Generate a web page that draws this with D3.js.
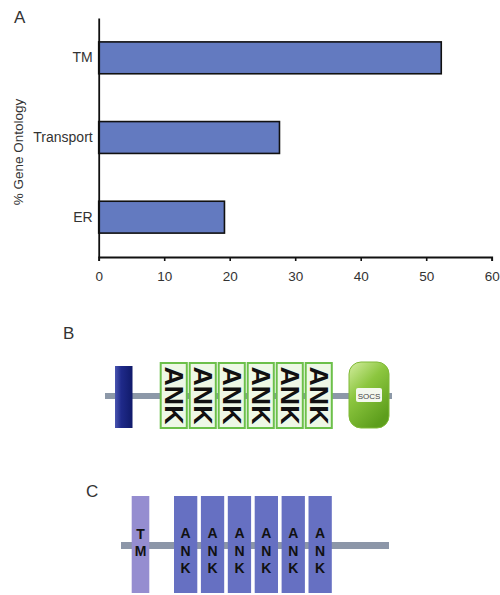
<!DOCTYPE html>
<html><head><meta charset="utf-8">
<script src="https://cdn.jsdelivr.net/npm/d3@7"></script>
<style>body{margin:0;background:#fff}svg{display:block}text{font-family:"Liberation Sans",Arial,sans-serif}</style>
</head><body>
<svg id="c" width="500" height="595"></svg>
<script>
// ---- data ----
const categories = ["TM", "Transport", "ER"];
const values = [52.3, 27.6, 19.2];
const xTicks = [0, 10, 20, 30, 40, 50, 60];
const panelLabels = ["A", "B", "C"];
const bDomains = ["TM", "ANK", "ANK", "ANK", "ANK", "ANK", "ANK", "SOCS"];
const cDomains = ["TM", "ANK", "ANK", "ANK", "ANK", "ANK", "ANK"];

const svg = d3.select("#c");
const defs = svg.append("defs");

// ---- panel A ----
const x = d3.scaleLinear().domain([0, 60]).range([98.7, 491.7]);
const y = d3.scaleBand().domain(categories).range([18, 257]).paddingInner(0.6).paddingOuter(0.3);

svg.append("g").selectAll("rect").data(categories).join("rect")
  .attr("x", x(0)).attr("y", d => y(d))
  .attr("width", (d, i) => x(values[i]) - x(0))
  .attr("height", y.bandwidth())
  .attr("fill", "#637ac0").attr("stroke", "#111").attr("stroke-width", 1.6);

const xAxis = svg.append("g").attr("transform", "translate(0,257)")
  .call(d3.axisBottom(x).tickValues(xTicks).tickSize(4).tickPadding(10).tickFormat(d3.format("d")));
xAxis.select(".domain").attr("stroke", "#111").attr("stroke-width", 1.8);
xAxis.selectAll(".tick line").attr("stroke", "#111").attr("stroke-width", 1.6);
xAxis.selectAll("text").attr("font-size", 13.5).attr("fill", "#333");

const yAxis = svg.append("g").attr("transform", "translate(98.7,0)")
  .call(d3.axisLeft(y).tickSize(0).tickPadding(6));
yAxis.select(".domain").attr("stroke", "#111").attr("stroke-width", 1.8);
yAxis.selectAll("text").attr("font-size", 14).attr("fill", "#333");

svg.append("text").attr("transform", "translate(23,152) rotate(-90)")
  .attr("text-anchor", "middle").attr("font-size", 13.5).attr("fill", "#333").text("% Gene Ontology");

const labelPos = [[14, 22.5], [63, 339], [86, 496.5]];
svg.selectAll("text.pl").data(panelLabels).join("text").attr("class", "pl")
  .attr("x", (d, i) => labelPos[i][0]).attr("y", (d, i) => labelPos[i][1])
  .attr("font-size", 17).attr("fill", "#333").text(d => d);

// ---- panel B ----
const gB = svg.append("g");
gB.append("rect").attr("x", 105).attr("y", 393).attr("width", 287).attr("height", 6).attr("fill", "#8c98a8");

const tmG = defs.append("linearGradient").attr("id", "tmB").attr("x1", 0).attr("x2", 1);
tmG.append("stop").attr("offset", 0).attr("stop-color", "#4a55b0");
tmG.append("stop").attr("offset", 0.35).attr("stop-color", "#1f2a8a");
tmG.append("stop").attr("offset", 1).attr("stop-color", "#101a6a");
gB.append("rect").attr("x", 115).attr("y", 366).attr("width", 17.5).attr("height", 62).attr("fill", "url(#tmB)");

const bIdx = d3.range(bDomains.filter(d => d === "ANK").length);
const xb = d3.scaleBand().domain(bIdx).range([160.7, 331.8]).paddingInner(0.1);
const ankB = gB.selectAll("g.ankb").data(bIdx).join("g").attr("class", "ankb");
ankB.append("rect").attr("x", d => xb(d)).attr("y", 363).attr("width", xb.bandwidth()).attr("height", 65)
  .attr("fill", "#eef8e6").attr("stroke", "#6cc04a").attr("stroke-width", 2);
ankB.append("text")
  .attr("transform", d => `translate(${xb(d) + xb.bandwidth() / 2 - 9},${395.5}) rotate(90)`)
  .attr("text-anchor", "middle").attr("font-size", 25).attr("font-weight", "bold")
  .attr("textLength", 58).attr("lengthAdjust", "spacingAndGlyphs").attr("fill", "#111").text("ANK");

const sG = defs.append("linearGradient").attr("id", "socs").attr("x1", 0).attr("y1", 0).attr("x2", 0.6).attr("y2", 1);
sG.append("stop").attr("offset", 0).attr("stop-color", "#d4eea0");
sG.append("stop").attr("offset", 0.45).attr("stop-color", "#8cc63f");
sG.append("stop").attr("offset", 1).attr("stop-color", "#5d9e1c");
gB.append("rect").attr("x", 349).attr("y", 362).attr("width", 40).attr("height", 66).attr("rx", 12)
  .attr("fill", "url(#socs)").attr("stroke", "#7fb936").attr("stroke-width", 1);
gB.append("rect").attr("x", 356).attr("y", 388).attr("width", 26).attr("height", 14).attr("rx", 2).attr("fill", "#f4f8ee");
gB.append("text").attr("x", 369).attr("y", 398.5).attr("text-anchor", "middle").attr("font-size", 8)
  .attr("fill", "#444").text("SOCS");

// ---- panel C ----
const gC = svg.append("g");
gC.append("rect").attr("x", 121).attr("y", 542).attr("width", 268).attr("height", 7).attr("fill", "#8c96a8");
gC.append("rect").attr("x", 131.7).attr("y", 496).attr("width", 17.6).attr("height", 97).attr("fill", "#958dd0");
gC.append("text").attr("x", 140.5).attr("y", 539).attr("text-anchor", "middle").attr("font-size", 14).attr("font-weight", "bold").attr("fill", "#111").text("T");
gC.append("text").attr("x", 140.5).attr("y", 556).attr("text-anchor", "middle").attr("font-size", 14).attr("font-weight", "bold").attr("fill", "#111").text("M");

const cIdx = d3.range(cDomains.filter(d => d === "ANK").length);
const xc = d3.scaleBand().domain(cIdx).range([174, 331.8]).paddingInner(0.134);
const ankC = gC.selectAll("g.ankc").data(cIdx).join("g").attr("class", "ankc");
ankC.append("rect").attr("x", d => xc(d)).attr("y", 496).attr("width", xc.bandwidth()).attr("height", 97).attr("fill", "#6670c2");
["A", "N", "K"].forEach((ch, j) => {
  ankC.append("text").attr("x", d => xc(d) + xc.bandwidth() / 2).attr("y", 538 + j * 17.5)
    .attr("text-anchor", "middle").attr("font-size", 14).attr("font-weight", "bold").attr("fill", "#111").text(ch);
});
</script>
</body></html>
